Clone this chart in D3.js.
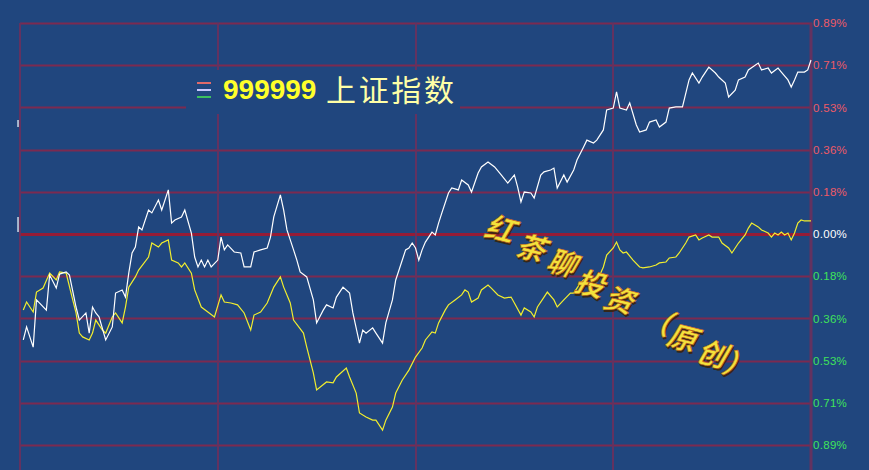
<!DOCTYPE html>
<html><head><meta charset="utf-8">
<script src="https://cdn.jsdelivr.net/npm/d3@7"></script>
<style>html,body{margin:0;padding:0;background:#21467d;overflow:hidden}</style>
</head><body>
<svg id="c" width="869" height="470"></svg>
<script>
// ---- data ----
const minuteTicks = [0, 60, 120, 180, 240];
const pctTicks = [0.89, 0.712, 0.534, 0.356, 0.178, 0, -0.178, -0.356, -0.534, -0.712, -0.89];
const pctLabels = ["0.89%","0.71%","0.53%","0.36%","0.18%","0.00%","0.18%","0.36%","0.53%","0.71%","0.89%"];
const titleCode = "999999";
const titleName = "上证指数";
const watermark = ["红","茶","聊","投","资","（","原","创","）"];
// minute, % change (white line)
const whiteSeries = [[1,-0.447],[2,-0.392],[4,-0.477],[5,-0.278],[8,-0.321],[9,-0.173],[11,-0.228],[12,-0.169],[14,-0.160],[15,-0.173],[17,-0.308],[18,-0.363],[20,-0.333],[21,-0.418],[22,-0.308],[23,-0.333],[24,-0.350],[26,-0.447],[28,-0.392],[29,-0.249],[31,-0.236],[32,-0.266],[33,-0.165],[34,-0.080],[35,-0.055],[36,0.030],[37,0.017],[39,0.101],[40,0.089],[42,0.143],[43,0.101],[45,0.186],[46,0.046],[47,0.059],[49,0.072],[50,0.101],[52,0.004],[53,-0.097],[54,-0.139],[55,-0.110],[56,-0.139],[57,-0.110],[58,-0.139],[60,-0.110],[61,-0.013],[62,-0.067],[63,-0.046],[65,-0.076],[67,-0.080],[68,-0.139],[70,-0.139],[71,-0.076],[73,-0.067],[75,-0.059],[76,-0.013],[77,0.072],[79,0.165],[80,0.101],[81,0.017],[83,-0.067],[84,-0.110],[85,-0.160],[87,-0.181],[89,-0.278],[90,-0.375],[92,-0.321],[93,-0.299],[95,-0.312],[96,-0.266],[98,-0.224],[100,-0.249],[101,-0.333],[103,-0.460],[104,-0.405],[105,-0.418],[107,-0.396],[108,-0.418],[110,-0.460],[111,-0.375],[113,-0.278],[114,-0.194],[115,-0.152],[117,-0.067],[118,-0.059],[119,-0.038],[120,-0.059],[121,-0.110],[122,-0.067],[123,-0.034],[124,-0.013],[125,0.008],[126,-0.004],[127,0.046],[128,0.089],[130,0.173],[131,0.194],[133,0.186],[134,0.228],[136,0.207],[137,0.177],[139,0.257],[140,0.283],[142,0.304],[144,0.283],[146,0.249],[148,0.215],[150,0.249],[151,0.198],[152,0.135],[153,0.177],[155,0.173],[156,0.152],[158,0.249],[159,0.262],[161,0.270],[162,0.278],[163,0.194],[165,0.249],[166,0.219],[168,0.270],[169,0.312],[171,0.367],[172,0.396],[174,0.384],[175,0.396],[177,0.439],[178,0.523],[180,0.531],[181,0.599],[182,0.531],[184,0.523],[185,0.553],[187,0.460],[188,0.430],[190,0.439],[191,0.472],[193,0.481],[194,0.451],[196,0.472],[197,0.531],[199,0.536],[201,0.536],[203,0.650],[204,0.679],[206,0.637],[207,0.662],[209,0.704],[211,0.679],[212,0.662],[214,0.637],[215,0.578],[217,0.607],[218,0.650],[220,0.662],[221,0.692],[224,0.721],[225,0.692],[227,0.700],[228,0.679],[230,0.700],[231,0.683],[233,0.650],[234,0.620],[235,0.650],[236,0.683],[238,0.683],[239,0.692],[240,0.734]];
// minute, % change (yellow line)
const yellowSeries = [[1,-0.321],[2,-0.287],[4,-0.329],[5,-0.245],[7,-0.228],[9,-0.165],[11,-0.194],[12,-0.160],[14,-0.165],[16,-0.278],[17,-0.333],[18,-0.418],[19,-0.434],[21,-0.447],[22,-0.418],[23,-0.363],[25,-0.405],[26,-0.418],[28,-0.350],[29,-0.333],[31,-0.375],[32,-0.308],[33,-0.224],[35,-0.181],[36,-0.152],[39,-0.097],[40,-0.038],[42,-0.055],[43,-0.038],[45,-0.025],[46,-0.110],[48,-0.122],[49,-0.139],[50,-0.122],[52,-0.165],[53,-0.236],[55,-0.308],[57,-0.329],[59,-0.350],[61,-0.257],[62,-0.287],[64,-0.291],[66,-0.299],[68,-0.333],[70,-0.405],[71,-0.342],[73,-0.329],[75,-0.291],[77,-0.224],[79,-0.181],[80,-0.224],[82,-0.291],[83,-0.363],[86,-0.418],[87,-0.477],[89,-0.586],[90,-0.658],[93,-0.624],[95,-0.628],[96,-0.603],[99,-0.565],[100,-0.603],[102,-0.671],[103,-0.755],[105,-0.772],[107,-0.785],[108,-0.785],[110,-0.827],[111,-0.785],[113,-0.730],[114,-0.671],[116,-0.616],[118,-0.574],[120,-0.519],[122,-0.481],[123,-0.447],[125,-0.413],[126,-0.418],[127,-0.375],[129,-0.321],[130,-0.299],[132,-0.278],[134,-0.257],[135,-0.236],[136,-0.245],[137,-0.287],[139,-0.270],[140,-0.236],[142,-0.215],[143,-0.228],[145,-0.257],[147,-0.270],[149,-0.266],[150,-0.291],[152,-0.342],[153,-0.312],[155,-0.329],[156,-0.350],[157,-0.308],[159,-0.266],[160,-0.245],[162,-0.278],[163,-0.308],[165,-0.278],[167,-0.249],[168,-0.249],[170,-0.207],[172,-0.181],[174,-0.202],[175,-0.202],[177,-0.139],[178,-0.089],[180,-0.059],[181,-0.034],[182,-0.067],[183,-0.080],[184,-0.076],[186,-0.110],[188,-0.139],[189,-0.143],[191,-0.139],[193,-0.131],[194,-0.122],[196,-0.118],[197,-0.101],[199,-0.097],[200,-0.080],[202,-0.038],[203,-0.013],[205,-0.004],[206,-0.025],[207,-0.017],[209,-0.004],[210,-0.013],[212,-0.013],[213,-0.038],[215,-0.059],[216,-0.080],[218,-0.038],[220,-0.004],[221,0.025],[222,0.046],[224,0.030],[225,0.017],[227,0.004],[228,-0.013],[229,0.004],[230,-0.004],[231,0.008],[232,-0.004],[233,0.004],[234,-0.025],[235,0.004],[236,0.046],[237,0.059],[238,0.055],[240,0.055]];
// small leftover marks at the left edge (minute, from %, to %)
const edgeMarks = [[-0.6,0.481,0.451],[-0.6,0.072,0.008]];

// ---- drawing ----
const W = 869, H = 470;
const BG = "#20467e";
const svg = d3.select("#c");
svg.append("rect").attr("width",W).attr("height",H).attr("fill",BG);

const x = d3.scaleLinear().domain([0,240]).range([20,811]);
const y = d3.scaleLinear().domain([-0.89,0.89]).range([445,23]);

// horizontal grid
svg.append("g").selectAll("line").data(pctTicks).join("line")
  .attr("x1", x(0)).attr("x2", x(240)+1)
  .attr("y1", d => Math.round(y(d))+0.5).attr("y2", d => Math.round(y(d))+0.5)
  .attr("stroke", d => d === 0 ? "#951c36" : "#7c2a50")
  .attr("stroke-width", d => d === 0 ? 3 : 2);

// vertical grid
svg.append("g").selectAll("line").data(minuteTicks).join("line")
  .attr("x1", d => Math.round(x(d))).attr("x2", d => Math.round(x(d)))
  .attr("y1", y(0.89)).attr("y2", H)
  .attr("stroke", "#633260")
  .attr("stroke-width", d => d === 240 ? 3 : 2);

// title box
const tg = svg.append("g");
tg.append("rect").attr("x",186).attr("y",70).attr("width",274).attr("height",44).attr("fill",BG);
[["#e06a6a",83],["#c8c8ff",90],["#3cc060",97]].forEach(([c,yy]) => {
  tg.append("line").attr("x1",197).attr("x2",211).attr("y1",yy).attr("y2",yy)
    .attr("stroke",c).attr("stroke-width",2);
});
tg.append("text").attr("x",223).attr("y",99).text(titleCode)
  .attr("font-family","Liberation Sans, Arial, sans-serif").attr("font-weight","bold")
  .attr("font-size",28).attr("fill","#ffff2a");
tg.append("text").attr("x",326).attr("y",101).text(titleName)
  .attr("font-family","Noto Sans CJK SC, sans-serif").attr("font-size",30)
  .attr("fill","#ffffa6").attr("textLength",128);

// lines
const line = d3.line().x(d => x(d[0])).y(d => y(d[1]));
svg.append("path").datum(yellowSeries).attr("d",line)
  .attr("fill","none").attr("stroke","#f2ee2e").attr("stroke-width",1.2);
svg.append("path").datum(whiteSeries).attr("d",line)
  .attr("fill","none").attr("stroke","#ffffff").attr("stroke-width",1.2);
svg.append("g").selectAll("line").data(edgeMarks).join("line")
  .attr("x1", d => x(d[0])).attr("x2", d => x(d[0]))
  .attr("y1", d => y(d[1])).attr("y2", d => y(d[2]))
  .attr("stroke","#ffffff").attr("stroke-width",1.2);

// right axis labels
const axis = d3.axisRight(y).tickValues(pctTicks).tickSize(0).tickPadding(0)
  .tickFormat((d,i) => pctLabels[i]);
const ag = svg.append("g").attr("transform",`translate(${x(240)+2},0)`).call(axis);
ag.select(".domain").remove();
ag.selectAll("text")
  .attr("font-family","Liberation Sans, Arial, sans-serif").attr("font-size",11.5)
  .attr("letter-spacing",0.3)
  .attr("fill", d => d > 0 ? "#ee5a66" : d < 0 ? "#3fe35a" : "#ffffff");

// watermark
const wmPos = [[502,230],[533,249],[564,264],[592,285],[621,301],[659,323],[684,339],[714,355],[740,366]];
const wg = svg.append("g").attr("font-family","Noto Sans CJK SC, sans-serif")
  .attr("font-weight","bold").attr("font-size",29).attr("text-anchor","middle");
watermark.forEach((ch,i) => {
  const [cx,cy] = wmPos[i];
  const g = wg.append("g").attr("transform",`translate(${cx},${cy}) rotate(14) skewX(-16)`);
  g.append("text").attr("x",2).attr("y",12).text(ch).attr("fill","#3a2208").attr("opacity",0.85);
  g.append("text").attr("x",0).attr("y",10).text(ch).attr("fill","#f3e23c")
    .attr("stroke","#c0601a").attr("stroke-width",0.6);
});
</script>
</body></html>
